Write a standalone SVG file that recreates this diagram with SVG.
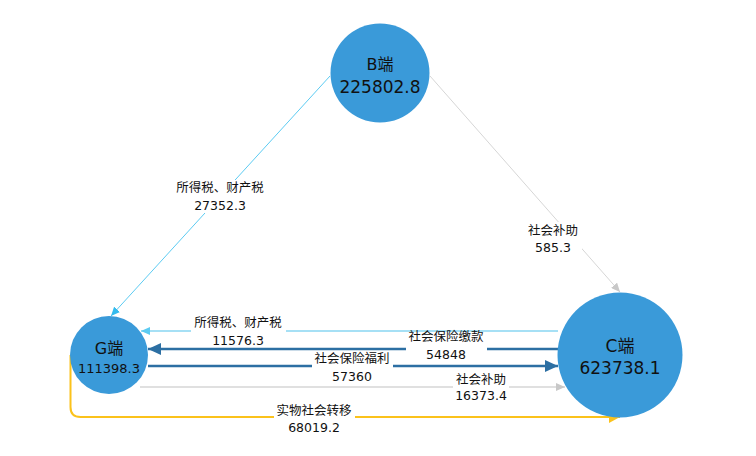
<svg xmlns="http://www.w3.org/2000/svg" width="756" height="456" viewBox="0 0 756 456">
<style>
.node{fill:#3a9ad9}
.nt{font-family:"DejaVu Sans","Noto Sans CJK SC",sans-serif;fill:#111;text-anchor:middle}
.lt{font-family:"DejaVu Sans","Noto Sans CJK SC",sans-serif;font-size:12.5px;fill:#111;text-anchor:middle}
.bg{fill:#fff}
</style>
<defs>
<marker id="aDark" markerUnits="userSpaceOnUse" markerWidth="14" markerHeight="12" refX="13" refY="6" orient="auto"><path d="M0,0 L13,6 L0,12 Z" fill="#2c6fa3"/></marker>
<marker id="aCyan" markerUnits="userSpaceOnUse" markerWidth="10" markerHeight="8" refX="9" refY="4" orient="auto"><path d="M0,0 L9,4 L0,8 Z" fill="#33bbee"/></marker>
<marker id="aCyanL" markerUnits="userSpaceOnUse" markerWidth="10" markerHeight="8" refX="9" refY="4" orient="auto"><path d="M0,0 L9,4 L0,8 Z" fill="#5ccbf2"/></marker>
<marker id="aGray" markerUnits="userSpaceOnUse" markerWidth="10" markerHeight="8" refX="9" refY="4" orient="auto"><path d="M0,0 L9,4 L0,8 Z" fill="#c8c8c8"/></marker>
<marker id="aYellow" markerUnits="userSpaceOnUse" markerWidth="12" markerHeight="12" refX="11" refY="6" orient="auto"><path d="M0,0 L11,6 L0,12 Z" fill="#fbc21b"/></marker>
</defs>
<rect width="756" height="456" fill="#fff"/>
<g id="connectors" fill="none">
<line id="e-bg" x1="330" y1="76" x2="111" y2="316" stroke="#5ccbf2" stroke-width="1" marker-end="url(#aCyan)"/>
<line id="e-bc" x1="430" y1="76" x2="620" y2="292" stroke="#d6d6d6" stroke-width="1" marker-end="url(#aGray)"/>
<line id="e-cg1" x1="558" y1="331" x2="141" y2="331" stroke="#a6e0f5" stroke-width="2" marker-end="url(#aCyanL)"/>
<line id="e-cg2" x1="558" y1="349" x2="148" y2="349" stroke="#2c6fa3" stroke-width="2.5" marker-end="url(#aDark)"/>
<line id="e-gc1" x1="148" y1="366" x2="558" y2="366" stroke="#2c6fa3" stroke-width="2.5" marker-end="url(#aDark)"/>
<line id="e-gc2" x1="140" y1="387" x2="565" y2="387" stroke="#d6d6d6" stroke-width="1.5" marker-end="url(#aGray)"/>
<path id="e-gc3" d="M70.5,355 V407 Q70.5,417 80.5,417 H620" stroke="#fbc21b" stroke-width="2" marker-end="url(#aYellow)"/>
<rect class="bg" x="172" y="180" width="96" height="33"/>
<text class="lt" x="220" y="192">所得税、财产税</text>
<text class="lt" x="220" y="210">27352.3</text>
<rect class="bg" x="524" y="222" width="58" height="33"/>
<text class="lt" x="553" y="235">社会补助</text>
<text class="lt" x="553" y="252">585.3</text>
<rect class="bg" x="191" y="315" width="95" height="32"/>
<text class="lt" x="238" y="327">所得税、财产税</text>
<text class="lt" x="238" y="345">11576.3</text>
<rect class="bg" x="406" y="333" width="81" height="28"/>
<text class="lt" x="446" y="341">社会保险缴款</text>
<text class="lt" x="446" y="359">54848</text>
<rect class="bg" x="312" y="351" width="81" height="32"/>
<text class="lt" x="352" y="363">社会保险福利</text>
<text class="lt" x="352" y="381">57360</text>
<rect class="bg" x="453" y="372" width="56" height="31"/>
<text class="lt" x="481" y="384">社会补助</text>
<text class="lt" x="481" y="400">16373.4</text>
<rect class="bg" x="274" y="403" width="81" height="32"/>
<text class="lt" x="314" y="415">实物社会转移</text>
<text class="lt" x="314" y="432">68019.2</text>
</g>
<g id="node-b">
<circle class="node" cx="380" cy="73" r="49.5"/>
<text class="nt" x="380" y="70" font-size="16">B端</text>
<text class="nt" x="380" y="93" font-size="17">225802.8</text>
</g>
<g id="node-g">
<circle class="node" cx="109" cy="355" r="39"/>
<text class="nt" x="109" y="354" font-size="16">G端</text>
<text class="nt" x="109" y="373" font-size="13">111398.3</text>
</g>
<g id="node-c">
<circle class="node" cx="620" cy="355" r="62.5"/>
<text class="nt" x="620" y="352" font-size="17">C端</text>
<text class="nt" x="620" y="374" font-size="17">623738.1</text>
</g>
</svg>
